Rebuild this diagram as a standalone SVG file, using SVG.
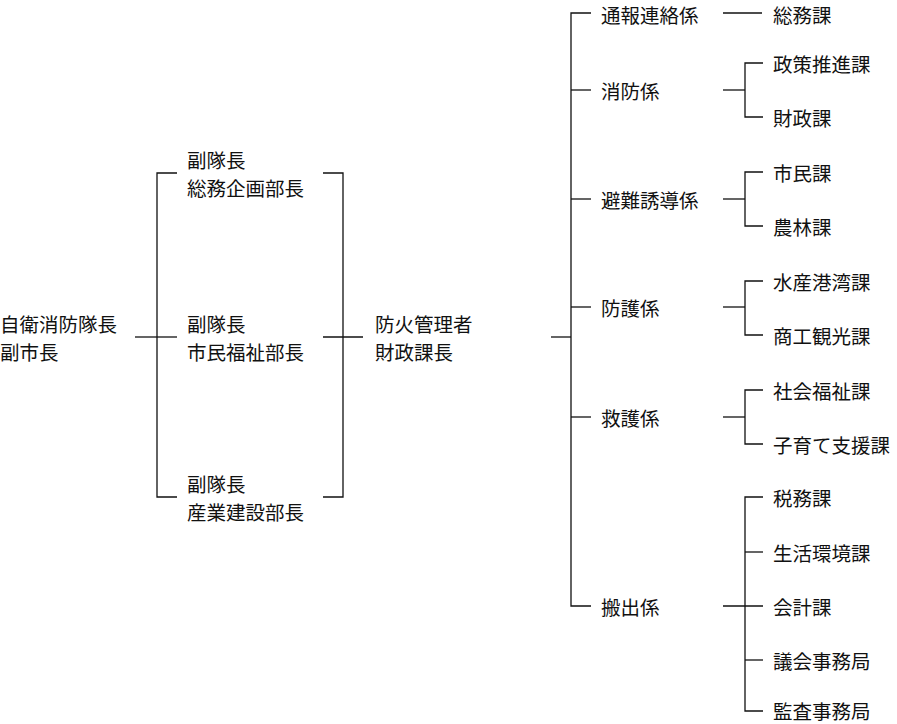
<svg xmlns="http://www.w3.org/2000/svg" width="897" height="724" viewBox="0 0 897 724">
<style>
text{font-family:"Noto Sans CJK JP","Noto Sans CJK SC",sans-serif;font-size:19.5px;fill:#111;dominant-baseline:central}
.c line,.c polyline{stroke:#111;stroke-width:1.3;fill:none}
</style>
<rect width="897" height="724" fill="#fff"/>
<g class="c" id="connectors">
<line x1="135" y1="337" x2="157" y2="337"/>
<polyline points="177,173 157,173 157,497 177,497"/>
<line x1="157" y1="337" x2="177" y2="337"/>
<polyline points="323,173 343,173 343,497 323,497"/>
<line x1="323" y1="337" x2="363" y2="337"/>
<line x1="551" y1="337" x2="571" y2="337"/>
<polyline points="591,13 571,13 571,606 591,606"/>
<line x1="571" y1="90" x2="591" y2="90"/>
<line x1="571" y1="199" x2="591" y2="199"/>
<line x1="571" y1="307" x2="591" y2="307"/>
<line x1="571" y1="417" x2="591" y2="417"/>
<line x1="723" y1="13" x2="762" y2="13"/>
<line x1="723" y1="90" x2="745" y2="90"/><polyline points="763,63 745,63 745,117 763,117"/>
<line x1="723" y1="199" x2="745" y2="199"/><polyline points="763,172 745,172 745,226 763,226"/>
<line x1="723" y1="307" x2="745" y2="307"/><polyline points="763,281 745,281 745,335 763,335"/>
<line x1="723" y1="417" x2="745" y2="417"/><polyline points="763,390 745,390 745,444 763,444"/>
<line x1="723" y1="606" x2="763" y2="606"/><polyline points="763,497 745,497 745,711 763,711"/>
<line x1="745" y1="552" x2="763" y2="552"/><line x1="745" y1="660" x2="763" y2="660"/>
</g>
<g id="n-chief"><text x="0" y="323">自衛消防隊長</text><text x="0" y="351">副市長</text></g>
<g id="n-v1"><text x="187" y="159">副隊長</text><text x="187" y="187">総務企画部長</text></g>
<g id="n-v2"><text x="187" y="323">副隊長</text><text x="187" y="351">市民福祉部長</text></g>
<g id="n-v3"><text x="187" y="483">副隊長</text><text x="187" y="511">産業建設部長</text></g>
<g id="n-mgr"><text x="375" y="323">防火管理者</text><text x="375" y="351">財政課長</text></g>
<g id="n-g1"><text x="601" y="14">通報連絡係</text></g>
<g id="n-g2"><text x="601" y="90">消防係</text></g>
<g id="n-g3"><text x="601" y="199">避難誘導係</text></g>
<g id="n-g4"><text x="601" y="307">防護係</text></g>
<g id="n-g5"><text x="601" y="417">救護係</text></g>
<g id="n-g6"><text x="601" y="606">搬出係</text></g>
<g id="n-d"><text x="773" y="14">総務課</text>
<text x="773" y="63">政策推進課</text><text x="773" y="117">財政課</text>
<text x="773" y="172">市民課</text><text x="773" y="226">農林課</text>
<text x="773" y="281">水産港湾課</text><text x="773" y="335">商工観光課</text>
<text x="773" y="390">社会福祉課</text><text x="773" y="444">子育て支援課</text>
<text x="773" y="497">税務課</text><text x="773" y="552">生活環境課</text><text x="773" y="606">会計課</text><text x="773" y="660">議会事務局</text><text x="773" y="710">監査事務局</text></g>
</svg>
